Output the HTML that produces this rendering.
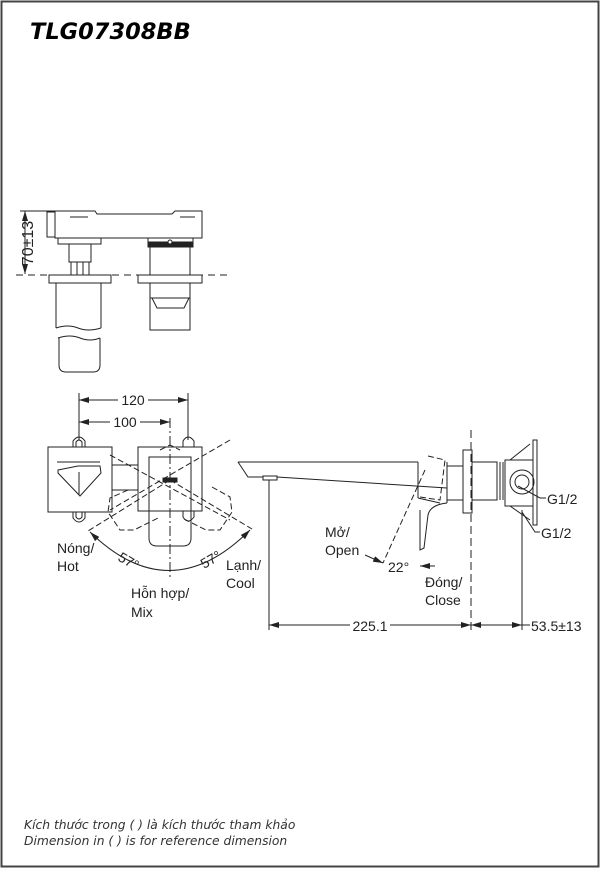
<!DOCTYPE html>
<html><head><meta charset="utf-8"><style>
html,body{margin:0;padding:0;background:#fff}
svg{display:block}
text{font-family:"Liberation Sans",Arial,sans-serif;fill:#222}
</style></head><body>
<svg width="604" height="869" viewBox="0 0 604 869" xmlns="http://www.w3.org/2000/svg">
<defs>
<marker id="ar" viewBox="0 0 10 6" refX="10" refY="3" markerWidth="10" markerHeight="6" orient="auto-start-reverse" markerUnits="userSpaceOnUse"><path d="M0,0 L10,3 L0,6z" fill="#222"/></marker>
</defs>
<rect x="1.5" y="1.5" width="597" height="865" fill="none" stroke="#444" stroke-width="2"/>
<text x="30" y="39" style="font-family:'DejaVu Sans',sans-serif;font-weight:bold;font-style:italic;font-size:22.5px;fill:#000">TLG07308BB</text>

<g fill="none" stroke="#222" stroke-width="1">
<!-- top view -->
<line x1="25" y1="211" x2="25" y2="274" marker-start="url(#ar)" marker-end="url(#ar)"/>
<line x1="20" y1="211" x2="55" y2="211"/>
<line x1="16" y1="275" x2="228" y2="275" stroke-dasharray="7,5"/>
<path d="M55,211 H95 L97,214 H172 L175,211 H202 V238 H55z"/>
<rect x="47" y="212" width="8" height="25"/>
<path d="M70,217 H88 M180,217 H195"/>
<rect x="58" y="238" width="43" height="6"/>
<rect x="69" y="244" width="22" height="18"/>
<path d="M71,262 V275 M77,262 V275 M83,262 V275 M89,262 V275"/>
<rect x="49" y="275" width="62" height="8"/>
<path d="M56,283 V328 M101,283 V328 M56,328 Q68,324 78,328 T101,328 M58,338 Q70,334 80,338 T100,338 M59,338 V365 Q59,372 66,372 H93 Q100,372 100,365 V338"/>
<rect x="148" y="238" width="45" height="9"/>
<rect x="148" y="242" width="45" height="5" fill="#222"/>
<path d="M150,247 V275 M190,247 V275"/>
<rect x="138" y="275" width="64" height="8"/>
<path d="M150,283 V330 H190 V283 M150,298 H190 M152,298 L157,308 H184 L189,298"/>
<circle cx="170" cy="242" r="2" fill="#fff"/>

<!-- front view -->
<line x1="79" y1="393" x2="79" y2="440"/>
<line x1="188" y1="393" x2="188" y2="440"/>
<line x1="79" y1="400" x2="188" y2="400" marker-start="url(#ar)" marker-end="url(#ar)"/>
<line x1="79" y1="422" x2="170" y2="422" marker-start="url(#ar)" marker-end="url(#ar)"/>
<line x1="170" y1="418" x2="170" y2="580" stroke-dasharray="10,3,2,3"/>
<rect x="48" y="447" width="64" height="65"/>
<path d="M73,447 V441 Q79,433 85,441 V447 M76,447 V442 Q79,438 82,442 V447"/>
<path d="M73,512 V518 Q79,526 85,518 V512 M76,512 V517 Q79,521 82,517 V512"/>
<path d="M57,462 H100 M58,470 L78,466 H100 L101,473 L80,496 L58,473z M79,472 V495"/>
<path d="M112,465 H138 M112,490 H138"/>
<rect x="138" y="447" width="64" height="64"/>
<path d="M183,447 V441 Q188,433 194,441 V447 M183,511 V517 Q188,525 194,517 V511"/>
<path d="M149,457 H191 V538 Q191,546 183,546 H157 Q149,546 149,538z"/>
<g stroke-dasharray="6,3">
<path d="M128,490 L110,498 L108,512 L120,530 L134,530 L158,518 M212,487 L230,497 L232,512 L220,530 L206,530 L182,518"/>
<line x1="170" y1="480" x2="88" y2="531"/>
<line x1="170" y1="480" x2="252" y2="529"/>
<line x1="110" y1="455" x2="230" y2="520"/>
<line x1="230" y1="440" x2="110" y2="510"/>
<path d="M160,450 L170,445 L180,450"/>
</g>
<path d="M90,532 Q170,610 250,530" marker-start="url(#ar)" marker-end="url(#ar)"/>
<rect x="163" y="478" width="14" height="4" fill="#222"/>

<!-- side view -->
<line x1="471" y1="430" x2="471" y2="632" stroke-dasharray="8,4"/>
<path d="M238,462 H418 M238,462 L248,477 H263 M277,477 L447,488"/>
<rect x="263" y="476" width="14" height="4"/>
<path d="M418,462 V498 M447,462 V503 M418,498 L440,503"/>
<path d="M447,503 Q430,505 428,515 L424,548 L420,550 V510"/>
<path d="M447,466 H463 M447,500 H463"/>
<rect x="463" y="450" width="9" height="63"/>
<rect x="472" y="462" width="25" height="38"/>
<path d="M497,462 V500 M500,462 V500 M503,462 V500 M505,460 H533 V506 H505z"/>
<path d="M510,460 L530,444 M510,506 L530,520"/>
<rect x="533" y="440" width="4" height="85"/>
<circle cx="522" cy="482" r="12"/>
<circle cx="522" cy="482" r="7"/>
<g stroke-dasharray="6,3">
<path d="M428,456 L445,460 L440,500 L420,497"/>
<line x1="425" y1="470" x2="383" y2="563"/>
</g>
<path d="M518,486 L540,498 H546 M522,512 L535,532 H540"/>
<line x1="365" y1="555" x2="383" y2="563" marker-end="url(#ar)"/>
<line x1="435" y1="566" x2="420" y2="566" marker-end="url(#ar)"/>
<line x1="269" y1="480" x2="269" y2="630"/>
<line x1="522" y1="510" x2="522" y2="630"/>
<line x1="269" y1="625" x2="471" y2="625" marker-start="url(#ar)" marker-end="url(#ar)"/>
<line x1="471" y1="625" x2="522" y2="625" marker-start="url(#ar)" marker-end="url(#ar)"/>
<line x1="522" y1="625" x2="530" y2="625"/>
</g>

<g style="font-size:14px">
<text x="28" y="243" text-anchor="middle" transform="rotate(-90 28 243)" dy="5" style="font-size:16px">70±13</text>
<rect x="118" y="392" width="30" height="14" fill="#fff"/>
<text x="133" y="405" text-anchor="middle">120</text>
<rect x="110" y="414" width="30" height="14" fill="#fff"/>
<text x="125" y="427" text-anchor="middle">100</text>
<text x="57" y="553">Nóng/</text>
<text x="57" y="571">Hot</text>
<text x="117" y="560" transform="rotate(30 117 560)">57°</text>
<text x="204" y="569" transform="rotate(-30 204 569)">57°</text>
<text x="226" y="570">Lạnh/</text>
<text x="226" y="588">Cool</text>
<text x="131" y="598">Hỗn hợp/</text>
<text x="131" y="617">Mix</text>
<text x="325" y="537">Mở/</text>
<text x="325" y="555">Open</text>
<text x="388" y="572">22°</text>
<text x="425" y="587">Đóng/</text>
<text x="425" y="605">Close</text>
<text x="547" y="504">G1/2</text>
<text x="541" y="538">G1/2</text>
<rect x="350" y="618" width="40" height="14" fill="#fff"/>
<text x="370" y="631" text-anchor="middle">225.1</text>
<text x="531" y="631">53.5±13</text>
</g>
<text x="24" y="829" style="font-family:'DejaVu Sans',sans-serif;font-style:italic;font-size:12.3px;fill:#333">Kích thước trong ( ) là kích thước tham khảo</text>
<text x="24" y="845" style="font-family:'DejaVu Sans',sans-serif;font-style:italic;font-size:12.3px;fill:#333">Dimension in ( ) is for reference dimension</text>
</svg>
</body></html>
